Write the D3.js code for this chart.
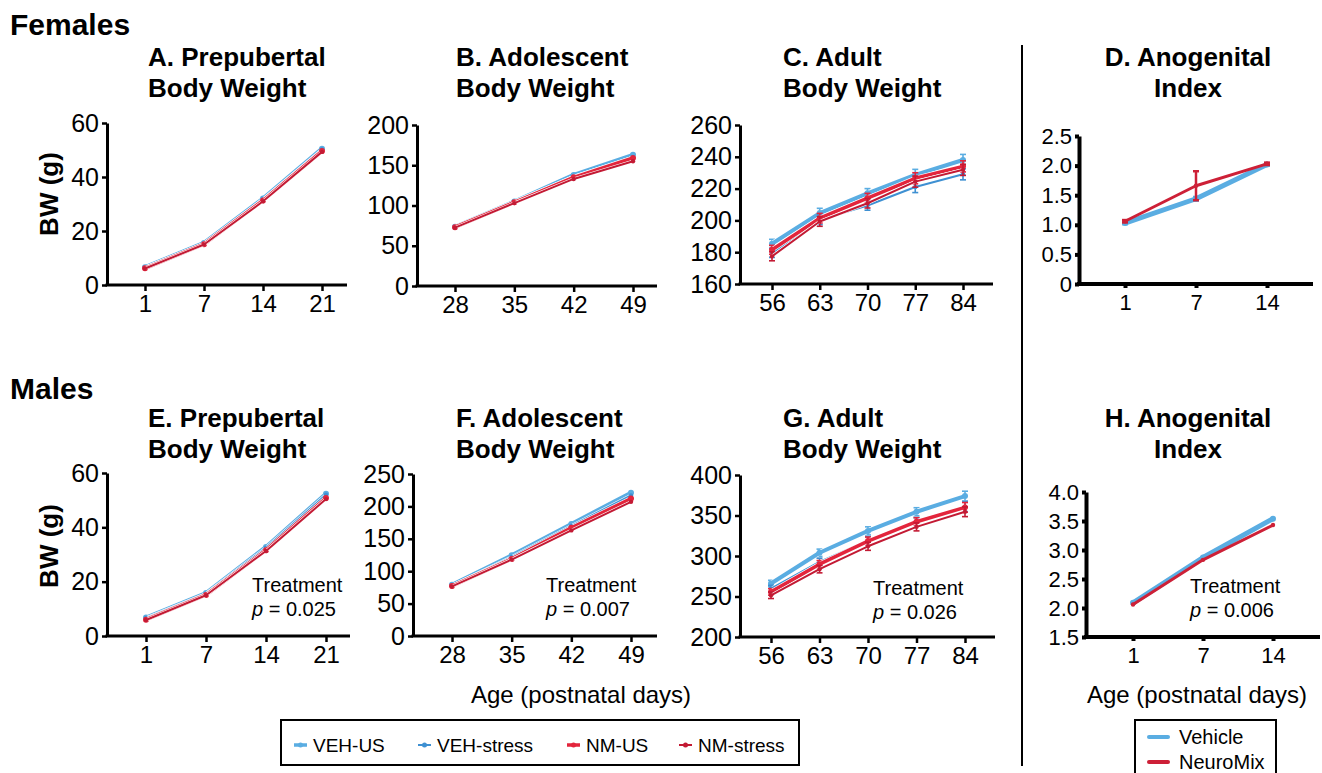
<!DOCTYPE html>
<html>
<head>
<meta charset="utf-8">
<title>Body weight and anogenital index</title>
<style>
	body { margin: 0; background: #fff; }
	svg { display: block; font-family: "Liberation Sans", Arial, sans-serif; }
	.axis text { fill: #000; }
	.axis line, .axis path { stroke: #000; }
</style>
<script src="https://cdn.jsdelivr.net/npm/d3@7"></script>
</head>
<body>
<script>
// ---- data ----
var preDays = [1, 7, 14, 21],
	adolDays = [28, 35, 42, 49],
	adultDays = [56, 63, 70, 77, 84],
	agiDays = [1, 7, 14];

var groups = ["VEH-US", "VEH-stress", "NM-US", "NM-stress"],
	agiGroups = ["Vehicle", "NeuroMix"];

// females
var fPreVehUS = [6.6, 15.6, 32.0, 50.5], fPreVehSt = [6.5, 15.4, 31.8, 50.2],
	fPreNmUS = [6.2, 15.1, 31.3, 49.6], fPreNmSt = [6.1, 15.0, 31.0, 49.3];
var fAdoVehUS = [73.5, 105, 138, 163], fAdoVehSt = [73, 104, 136, 160],
	fAdoNmUS = [73, 104, 135, 159], fAdoNmSt = [72.5, 103, 133, 155];
var fAduVehUS = [185.3, 204.6, 217, 228.6, 238], fAduVehSt = [179.5, 200.4, 209.4, 221, 229],
	fAduNmUS = [181.5, 201.4, 214, 226.5, 234], fAduNmSt = [177.4, 199.3, 210.8, 224.4, 231.8];
var fAduSem = [2.8, 3, 3, 3.5, 3.5];
var fAgiVeh = [1.03, 1.44, 2.02], fAgiNm = [1.06, 1.66, 2.03],
	fAgiVehSem = [0.02, 0.03, 0.02], fAgiNmSem = [0.02, 0.245, 0.02];

// males
var mPreVehUS = [6.8, 15.8, 32.8, 52.4], mPreVehSt = [6.6, 15.6, 32.5, 52.0],
	mPreNmUS = [6.0, 15.1, 31.6, 50.8], mPreNmSt = [5.9, 15.0, 31.3, 50.4];
var mAdoVehUS = [79, 124.5, 173, 221], mAdoVehSt = [78, 122, 170, 217],
	mAdoNmUS = [77, 119, 167, 212], mAdoNmSt = [76.5, 118, 163, 207];
var mAduVehUS = [266, 304, 331, 354.6, 374], mAduVehSt = [259.8, 292.8, 318.8, 342.3, 360.8],
	mAduNmUS = [255.7, 289.9, 318.4, 342.3, 360], mAduNmSt = [251.5, 283.7, 312, 336, 354.6];
var mAduSem = [4, 4.5, 5, 5, 6];
var mAgiVeh = [2.09, 2.87, 3.54], mAgiNm = [2.06, 2.83, 3.43];

var preTicks = [0, 20, 40, 60],
	fAdoTicks = [0, 50, 100, 150, 200],
	fAduTicks = [160, 180, 200, 220, 240, 260],
	fAgiTicks = [0, 0.5, 1.0, 1.5, 2.0, 2.5],
	mAdoTicks = [0, 50, 100, 150, 200, 250],
	mAduTicks = [200, 250, 300, 350, 400],
	mAgiTicks = [1.5, 2.0, 2.5, 3.0, 3.5, 4.0];

var pValues = ["0.025", "0.007", "0.026", "0.006"];

// ---- styles ----
var style = {
	"VEH-US":     {color: "#5aade2", w: 4},
	"VEH-stress": {color: "#3e90d2", w: 2},
	"NM-US":      {color: "#e3253c", w: 3.5},
	"NM-stress":  {color: "#c31a34", w: 2},
	"Vehicle":    {color: "#5aade2", w: 5},
	"NeuroMix":   {color: "#cd2037", w: 3}
};

var svg = d3.select("body").append("svg")
	.attr("width", 1322)
	.attr("height", 773);

function four(a, b, c, d, sem) {
	return [a, b, c, d].map(function(v, i) {
		return {name: groups[i], values: v, sem: sem || null};
	});
}

var fmt1 = function(d) { return d === 0 ? "0" : d3.format(".1f")(d); };

var panels = [
	{x0: 107, x1: 347, xa: 145, xb: 322, yTop: 123, yBot: 285, cats: preDays, ticks: preTicks,
		series: four(fPreVehUS, fPreVehSt, fPreNmUS, fPreNmSt)},
	{x0: 417, x1: 657, xa: 455, xb: 633, yTop: 125, yBot: 286, cats: adolDays, ticks: fAdoTicks,
		series: four(fAdoVehUS, fAdoVehSt, fAdoNmUS, fAdoNmSt)},
	{x0: 740, x1: 993, xa: 772, xb: 963, yTop: 125, yBot: 284, cats: adultDays, ticks: fAduTicks,
		series: four(fAduVehUS, fAduVehSt, fAduNmUS, fAduNmSt, fAduSem)},
	{x0: 1079, x1: 1313, xa: 1125, xb: 1267, yTop: 136, yBot: 284, cats: agiDays, ticks: fAgiTicks, agi: true, fmt: fmt1,
		series: [{name: "Vehicle", values: fAgiVeh, sem: fAgiVehSem}, {name: "NeuroMix", values: fAgiNm, sem: fAgiNmSem}]},
	{x0: 107, x1: 350, xa: 146, xb: 326, yTop: 473, yBot: 636, cats: preDays, ticks: preTicks,
		series: four(mPreVehUS, mPreVehSt, mPreNmUS, mPreNmSt), note: [252, 592, pValues[0]]},
	{x0: 413, x1: 657, xa: 452, xb: 631, yTop: 474, yBot: 636, cats: adolDays, ticks: mAdoTicks,
		series: four(mAdoVehUS, mAdoVehSt, mAdoNmUS, mAdoNmSt), note: [546, 592, pValues[1]]},
	{x0: 740, x1: 995, xa: 771, xb: 965, yTop: 475, yBot: 637, cats: adultDays, ticks: mAduTicks,
		series: four(mAduVehUS, mAduVehSt, mAduNmUS, mAduNmSt, mAduSem), note: [873, 595, pValues[2]]},
	{x0: 1086, x1: 1320, xa: 1133, xb: 1273, yTop: 492, yBot: 637, cats: agiDays, ticks: mAgiTicks, agi: true, fmt: fmt1,
		series: [{name: "Vehicle", values: mAgiVeh}, {name: "NeuroMix", values: mAgiNm}], note: [1190, 593, pValues[3]]}
];

panels.forEach(function(p) {
	var aw = p.agi ? 4 : 3;

	var x = d3.scalePoint().domain(p.cats).range([p.xa, p.xb]);
	var y = d3.scaleLinear()
		.domain([p.ticks[0], p.ticks[p.ticks.length - 1]])
		.range([p.yBot, p.yTop]);

	var g = svg.append("g");

	// x axis
	var gx = g.append("g")
		.attr("class", "axis")
		.attr("transform", "translate(0," + p.yBot + ")")
		.call(d3.axisBottom(x).tickSize(p.agi ? 4 : 6).tickPadding(p.agi ? 6 : 4));
	gx.select(".domain").remove();
	gx.selectAll(".tick line").attr("stroke-width", p.agi ? 4 : 2.5);
	gx.selectAll("text").style("font-size", p.agi ? "22px" : "24px");
	gx.append("line")
		.attr("x1", p.x0 - aw / 2).attr("x2", p.x1)
		.attr("stroke", "#000").attr("stroke-width", aw);

	// y axis
	var gy = g.append("g")
		.attr("class", "axis")
		.attr("transform", "translate(" + p.x0 + ",0)")
		.call(d3.axisLeft(y).tickValues(p.ticks).tickSize(p.agi ? 4 : 5).tickSizeOuter(0)
			.tickPadding(3).tickFormat(p.fmt || d3.format("d")));
	gy.select(".domain").attr("stroke-width", aw);
	gy.selectAll(".tick line").attr("stroke-width", p.agi ? 4 : 2.5);
	gy.selectAll("text").style("font-size", p.agi ? "22px" : "25px");

	var line = d3.line()
		.x(function(d, i) { return x(p.cats[i]); })
		.y(function(d) { return y(d); });

	p.series.forEach(function(s) {
		var st = style[s.name];
		if (s.sem) {
			var eb = g.append("g")
				.attr("stroke", st.color)
				.attr("stroke-width", p.agi ? 2.5 : 1.6);
			s.values.forEach(function(v, i) {
				var cx = x(p.cats[i]), hi = y(v + s.sem[i]), lo = y(v - s.sem[i]);
				eb.append("line").attr("x1", cx).attr("x2", cx).attr("y1", hi).attr("y2", lo);
				eb.append("line").attr("x1", cx - 3).attr("x2", cx + 3).attr("y1", hi).attr("y2", hi);
				eb.append("line").attr("x1", cx - 3).attr("x2", cx + 3).attr("y1", lo).attr("y2", lo);
			});
		}
		if (!p.agi) {
			g.append("path")
				.datum(s.values)
				.attr("fill", "none")
				.attr("stroke", "#fff")
				.attr("stroke-width", st.w + 1.2)
				.attr("d", line);
		}
		g.append("path")
			.datum(s.values)
			.attr("fill", "none")
			.attr("stroke", st.color)
			.attr("stroke-width", st.w)
			.attr("stroke-linejoin", "round")
			.attr("d", line);
		g.selectAll(null)
			.data(s.values)
			.enter().append("circle")
				.attr("cx", function(d, i) { return x(p.cats[i]); })
				.attr("cy", function(d) { return y(d); })
				.attr("r", st.w > 3 ? 3 : 2.2)
				.attr("fill", st.color);
	});

	if (p.note) {
		g.append("text")
			.attr("x", p.note[0])
			.attr("y", p.note[1])
			.style("font-size", "20px")
			.text("Treatment");
		var t2 = g.append("text")
			.attr("x", p.note[0])
			.attr("y", p.note[1] + 24)
			.style("font-size", "20px");
		t2.append("tspan").style("font-style", "italic").text("p");
		t2.append("tspan").text(" = " + p.note[2]);
	}
});

// ---- titles ----
svg.append("text").attr("x", 10).attr("y", 35).style("font-size", "30px").style("font-weight", "bold").text("Females");
svg.append("text").attr("x", 10).attr("y", 399).style("font-size", "30px").style("font-weight", "bold").text("Males");

var titles = [
	[148, 66, "A. Prepubertal", "Body Weight", "start"],
	[456, 66, "B. Adolescent", "Body Weight", "start"],
	[783, 66, "C. Adult", "Body Weight", "start"],
	[1188, 66, "D. Anogenital", "Index", "middle"],
	[148, 427, "E. Prepubertal", "Body Weight", "start"],
	[456, 427, "F. Adolescent", "Body Weight", "start"],
	[783, 427, "G. Adult", "Body Weight", "start"],
	[1188, 427, "H. Anogenital", "Index", "middle"]
];
titles.forEach(function(t) {
	var tx = svg.append("text")
		.attr("text-anchor", t[4])
		.style("font-size", "26px")
		.style("font-weight", "bold");
	tx.append("tspan").attr("x", t[0]).attr("y", t[1]).text(t[2]);
	tx.append("tspan").attr("x", t[0]).attr("y", t[1] + 31).text(t[3]);
});

[194, 546].forEach(function(cy) {
	svg.append("text")
		.attr("transform", "translate(58," + cy + ") rotate(-90)")
		.attr("text-anchor", "middle")
		.style("font-size", "26px")
		.style("font-weight", "bold")
		.text("BW (g)");
});

[581, 1197].forEach(function(cx) {
	svg.append("text")
		.attr("x", cx).attr("y", 703)
		.attr("text-anchor", "middle")
		.style("font-size", "24px")
		.text("Age (postnatal days)");
});

// divider
svg.append("line")
	.attr("x1", 1022).attr("x2", 1022)
	.attr("y1", 45).attr("y2", 766)
	.attr("stroke", "#000").attr("stroke-width", 2);

// ---- legends ----
svg.append("rect")
	.attr("x", 281).attr("y", 720).attr("width", 518).attr("height", 45)
	.attr("fill", "none").attr("stroke", "#000").attr("stroke-width", 2);

var legX = [294, 418, 567, 679];
groups.forEach(function(gname, i) {
	var st = style[gname], lg = svg.append("g").attr("transform", "translate(" + legX[i] + ",745)");
	lg.append("line").attr("x1", 0).attr("x2", 13).attr("stroke", st.color).attr("stroke-width", st.w > 3 ? 3.5 : 2);
	lg.append("circle").attr("cx", 6.5).attr("r", 2.5).attr("fill", st.color);
	lg.append("text").attr("x", 19).attr("y", 7).style("font-size", "19px").text(gname);
});

svg.append("rect")
	.attr("x", 1135).attr("y", 720).attr("width", 141).attr("height", 62)
	.attr("fill", "none").attr("stroke", "#000").attr("stroke-width", 2);

agiGroups.forEach(function(gname, i) {
	var st = style[gname], lg = svg.append("g").attr("transform", "translate(1149," + (737 + i * 25) + ")");
	lg.append("line").attr("x1", 0).attr("x2", 19).attr("stroke", st.color).attr("stroke-width", 4).attr("stroke-linecap", "round");
	lg.append("text").attr("x", 30).attr("y", 7).style("font-size", "20px").text(gname);
});
</script>
</body>
</html>
